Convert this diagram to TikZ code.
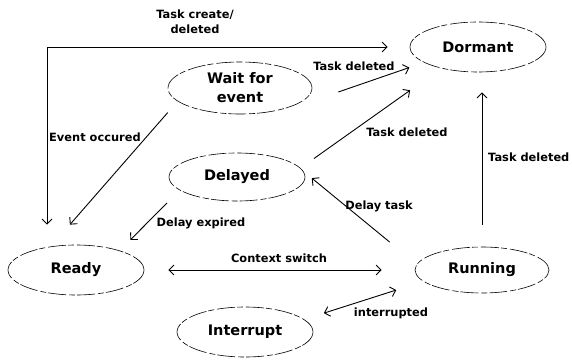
\documentclass[tikz,border=0pt]{standalone}
\usepackage{fontspec}
\setmainfont{DejaVu Sans}
\usetikzlibrary{shapes.geometric, arrows.meta}

\tikzset{
  tstate/.style={draw, ellipse, line width=0.6pt, dash pattern=on 18pt off 3pt on 6pt off 2pt,
    minimum width=136pt, minimum height=50pt, inner sep=0pt, align=center,
    font=\fontsize{14.5}{19}\selectfont\bfseries},
  arr/.style={-{Straight Barb[length=5pt,width=10pt]}, line width=0.9pt},
  darr/.style={{Straight Barb[length=5pt,width=10pt]}-{Straight Barb[length=5pt,width=10pt]}, line width=0.9pt},
  elabel/.style={font=\fontsize{11.4}{15}\selectfont\bfseries, inner sep=1pt},
}

\begin{document}
\begin{tikzpicture}[x=1pt, y=-1pt]
  \useasboundingbox (0,0) rectangle (572,361);
  % task states
  \node[tstate] (dormant) at (478,47) {Dormant};
  \node[tstate, minimum width=144pt, minimum height=52pt] (wait) at (240,88) {Wait for\\event};
  \node[tstate, minimum height=48pt] (delayed) at (237,177) {Delayed};
  \node[tstate] (ready) at (76,270) {Ready};
  \node[tstate, minimum width=134pt, minimum height=46pt] (running) at (482,270) {Running};
  \node[tstate] (interrupt) at (245,332) {Interrupt};

  % transitions
  \coordinate (tc) at (47,47);
  \draw[darr, shorten <=20pt, shorten >=22pt] (tc |- ready.north) |- (dormant.west);
  \draw[arr, shorten <=15pt, shorten >=29pt] (wait.192) -- (ready.137);
  \draw[arr, shorten >=15.5pt] ([shift={(26,4)}]wait.east) -- (dormant.196);
  \draw[arr, shorten <=16.5pt, shorten >=38pt] (delayed.8.6) -- (dormant.210);
  \draw[arr, shorten <=22pt, shorten >=20pt] (running.north) -- (running.north |- dormant.south);
  \draw[arr, shorten <=18pt, shorten >=15pt] (delayed.193.5) -- (ready.24);
  \draw[darr, shorten <=24pt, shorten >=33pt] (ready.east) -- (running.west);
  \draw[arr, shorten <=35pt, shorten >=22.6pt] (running.175.6) -- (delayed.13);
  \draw[darr, shorten <=20.6pt, shorten >=28.4pt] (interrupt.12.5) -- (running.191);

  % transition labels
  \node[elabel, align=center] (lcreate) at (195,22) {Task create/\\deleted};
  \node[elabel, anchor=west] (levent) at (48,137) {Event occured};
  \node[elabel] (ldelwait) at (354,66) {Task deleted};
  \node[elabel] (ldeldly) at (407,132) {Task deleted};
  \node[elabel, anchor=west] (ldelrun) at (487,157) {Task deleted};
  \node[elabel] (lexpired) at (201,223) {Delay expired};
  \node[elabel] (lswitch) at (279,258) {Context switch};
  \node[elabel] (ldelay) at (379,206) {Delay task};
  \node[elabel] (lint) at (391,313) {interrupted};
\end{tikzpicture}
\end{document}
